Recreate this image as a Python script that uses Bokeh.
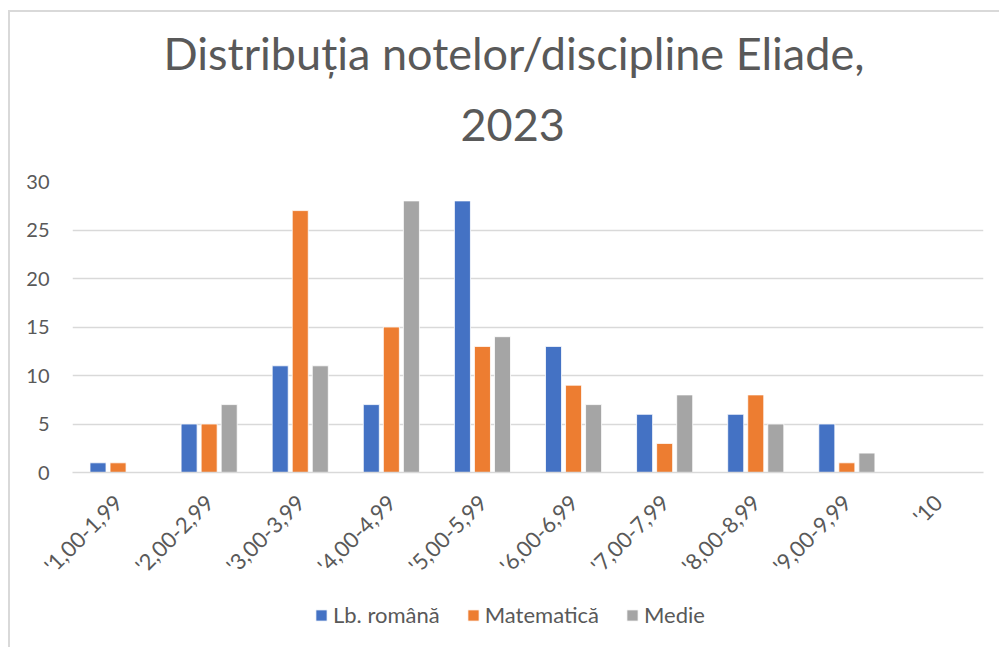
import math
from bokeh.plotting import figure
from bokeh.layouts import column
from bokeh.models import ColumnDataSource, Legend, LegendItem, Title, FactorRange
from bokeh.transform import dodge
from bokeh.embed import file_html
from bokeh.resources import INLINE

categories = ["'1,00-1,99", "'2,00-2,99", "'3,00-3,99", "'4,00-4,99", "'5,00-5,99",
              "'6,00-6,99", "'7,00-7,99", "'8,00-8,99", "'9,00-9,99", "'10"]
romana = [1, 5, 11, 7, 28, 13, 6, 6, 5, 0]
matematica = [1, 5, 27, 15, 13, 9, 3, 8, 1, 0]
medie = [0, 7, 11, 28, 14, 7, 8, 5, 2, 0]
series_names = ["Lb. română", "Matematică", "Medie"]
colors = ["#4472C4", "#ED7D31", "#A5A5A5"]
yticks = [0, 5, 10, 15, 20, 25, 30]

src = ColumnDataSource(dict(cat=categories, romana=romana, matematica=matematica, medie=medie))

FONT = "Lato"
TXT = "#595959"

p = figure(x_range=FactorRange(*categories), y_range=(0, 30), width=989, height=578,
           output_backend="svg", toolbar_location=None,
           min_border_left=62, min_border_right=16, min_border_top=169, min_border_bottom=118)
p.outline_line_color = None

t2 = Title(text="2023", align="left", text_font=FONT, text_font_size="45px",
           text_font_style="normal", text_color=TXT, standoff=82, offset=388)
t1 = Title(text="Distribuția notelor/discipline Eliade,", align="left", text_font=FONT,
           text_font_size="45px", text_font_style="normal", text_color=TXT, standoff=-28, offset=91)
p.add_layout(t2, "above")
p.add_layout(t1, "above")

w = 0.176
off = 0.22

def bars(fig):
    a = fig.vbar(x=dodge("cat", -off, range=fig.x_range), top="romana", width=w, source=src,
                 fill_color=colors[0], line_color="white", line_width=0.8)
    b = fig.vbar(x=dodge("cat", 0, range=fig.x_range), top="matematica", width=w, source=src,
                 fill_color=colors[1], line_color="white", line_width=0.8)
    c = fig.vbar(x=dodge("cat", off, range=fig.x_range), top="medie", width=w, source=src,
                 fill_color=colors[2], line_color="white", line_width=0.8)
    return [a, b, c]

bars(p)

p.x_range.range_padding = 0
p.x_range.group_padding = 0

p.yaxis.ticker = yticks
p.yaxis.axis_line_color = None
p.yaxis.major_tick_line_color = None
p.yaxis.minor_tick_line_color = None
p.yaxis.major_label_standoff = 17
p.yaxis.major_label_text_font = FONT
p.yaxis.major_label_text_font_size = "20px"
p.yaxis.major_label_text_color = TXT

p.xaxis.axis_line_color = "#d9d9d9"
p.xaxis.axis_line_width = 1.5
p.xaxis.major_tick_line_color = None
p.xaxis.minor_tick_line_color = None
p.xaxis.major_label_orientation = math.pi / 4
p.xaxis.major_label_standoff = 20
p.xaxis.major_label_text_font = FONT
p.xaxis.major_label_text_font_size = "22px"
p.xaxis.major_label_text_color = TXT

p.xgrid.grid_line_color = None
p.ygrid.grid_line_color = "#d9d9d9"
p.ygrid.grid_line_width = 1.5

# legend strip: same bars, ranges chosen so they stay out of view
leg = figure(x_range=FactorRange(*categories), y_range=(100, 200), width=989, height=57,
             output_backend="svg", toolbar_location=None,
             min_border_left=0, min_border_right=0, min_border_top=0, min_border_bottom=0)
leg.axis.visible = False
leg.grid.visible = False
leg.outline_line_color = None
lr = bars(leg)
legend = Legend(items=[LegendItem(label=series_names[i], renderers=[lr[i]]) for i in range(3)],
                orientation="horizontal", location=(242, 19),
                label_text_font=FONT, label_text_font_size="22px", label_text_color=TXT,
                glyph_width=14, glyph_height=14, spacing=26, label_standoff=5,
                border_line_color=None, background_fill_alpha=0, padding=0, margin=0)
leg.add_layout(legend, "center")

layout = column(p, leg, spacing=0,
                styles={"margin-left": "8px", "margin-top": "10px",
                        "border-left": "2px solid #d9d9d9", "border-top": "2px solid #d9d9d9"})

open("out.html", "w").write(file_html(layout, INLINE))
